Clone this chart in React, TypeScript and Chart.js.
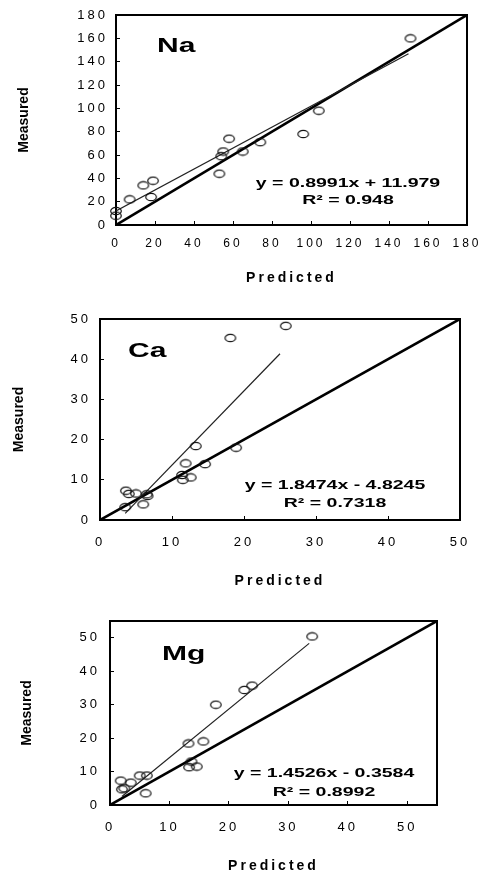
import React, { useEffect, useRef } from "react";
import { Chart, registerables } from "chart.js";

Chart.register(...registerables);

// ---------------- Data ----------------
// Na
const naPredicted = [0, 0, 7, 14, 19, 18, 53, 54, 55, 58, 65, 74, 96, 104, 151];
const naMeasured = [12, 8, 22, 34, 38, 24, 44, 59, 63, 74, 63, 71, 78, 98, 160];
const naTicks = [0, 20, 40, 60, 80, 100, 120, 140, 160, 180];
const naAxisMax = 180;
const naSlope = 0.8991;
const naIntercept = 11.979;
const naFitRange = [0, 150];
const naTexts = ["Na", "y = 0.8991x + 11.979", "R² = 0.948"];

// Ca
const caPredicted = [3.6, 4, 5, 3.5, 6, 6.5, 6.6, 11.4, 11.5, 12.6, 11.9, 13.3, 14.6, 18.9, 18.1, 25.8];
const caMeasured = [7.3, 6.5, 6.6, 3.2, 3.9, 6.4, 6.0, 11.2, 10, 10.6, 14.1, 18.4, 13.9, 18, 45.3, 48.3];
const caTicks = [0, 10, 20, 30, 40, 50];
const caAxisMax = 50;
const caSlope = 1.8474;
const caIntercept = -4.8245;
const caFitRange = [3.5, 25];
const caTexts = ["Ca", "y = 1.8474x - 4.8245", "R² = 0.7318"];

// Mg
const mgPredicted = [1.8, 2, 2.4, 3.5, 5, 6.2, 6, 13.2, 15.7, 13.7, 13.3, 14.6, 17.8, 22.6, 23.9, 34];
const mgMeasured = [7.3, 4.7, 5.0, 6.7, 8.8, 8.8, 3.5, 18.4, 19, 13, 11.3, 11.5, 30, 34.4, 35.7, 50.4];
const mgTicks = [0, 10, 20, 30, 40, 50];
const mgAxisMax = 55;
const mgSlope = 1.4526;
const mgIntercept = -0.3584;
const mgFitRange = [2, 33.5];
const mgTexts = ["Mg", "y = 1.4526x - 0.3584", "R² = 0.8992"];

const xTitle = "Predicted";
const yTitle = "Measured";

// ---------------- Layout / style ----------------
const W = 481;
const FONT = "'Liberation Sans', Arial, sans-serif";

type Layout = {
  top: number; height: number;
  L: number; R: number; T: number; B: number;
  yTitlePad: number; yTickPad: number; yTickSize: number;
  xTickPad: number; xTickSize: number; xTitlePad: number;
  label: [number, number];
  eq: [number, number]; r2: [number, number];
};

const naLayout: Layout = {
  top: 0, height: 290, L: 116, R: 467, T: 15, B: 225,
  yTitlePad: 15.6, yTickPad: 12, yTickSize: 13,
  xTickPad: 15, xTickSize: 12, xTitlePad: 3.6,
  label: [157, 46], eq: [348, 183], r2: [348, 200],
};
const caLayout: Layout = {
  top: 290, height: 300, L: 100, R: 460, T: 29, B: 230,
  yTitlePad: 11.1, yTickPad: 13, yTickSize: 13,
  xTickPad: 18.2, xTickSize: 13, xTitlePad: 0.6,
  label: [128, 61], eq: [335, 195], r2: [335, 213],
};
const mgLayout: Layout = {
  top: 590, height: 286, L: 110, R: 437, T: 31, B: 215,
  yTitlePad: 19.1, yTickPad: 14, yTickSize: 13,
  xTickPad: 18.2, xTickSize: 13, xTitlePad: 1.6,
  label: [162, 64], eq: [324, 183], r2: [324, 202],
};

type Spec = {
  predicted: number[]; measured: number[]; ticks: number[]; max: number;
  slope: number; intercept: number; fitRange: number[]; texts: string[];
};

function makeMarker(): HTMLCanvasElement {
  const c = document.createElement("canvas");
  c.width = 14;
  c.height = 10;
  const g = c.getContext("2d")!;
  g.strokeStyle = "#111";
  g.lineWidth = 1.2;
  g.beginPath();
  g.ellipse(7, 5, 5.3, 3.7, 0, 0, Math.PI * 2);
  g.stroke();
  return c;
}

function Panel({ spec, layout }: { spec: Spec; layout: Layout }) {
  const ref = useRef<HTMLCanvasElement>(null);
  useEffect(() => {
    const canvas = ref.current!;
    const H = layout.height;
    const marker = makeMarker();
    const points = spec.predicted.map((x, i) => ({ x, y: spec.measured[i] }));
    const fit = spec.fitRange.map((x) => ({ x, y: spec.slope * x + spec.intercept }));
    const identity = [{ x: 0, y: 0 }, { x: spec.max, y: spec.max }];

    const plugin = {
      id: "panelDecor",
      beforeDraw(chart: any) {
        chart.ctx.letterSpacing = "0px";
      },
      beforeDatasetsDraw(chart: any) {
        chart.ctx.letterSpacing = "3px";
      },
      afterDraw(chart: any) {
        const ctx = chart.ctx;
        const xs = chart.scales.x;
        const ys = chart.scales.y;
        const left = xs.getPixelForValue(0);
        const right = xs.getPixelForValue(spec.max);
        const top = ys.getPixelForValue(spec.max);
        const bottom = ys.getPixelForValue(0);
        ctx.save();
        ctx.letterSpacing = "0px";
        ctx.strokeStyle = "#000";
        ctx.lineWidth = 2;
        ctx.beginPath();
        ctx.moveTo(left - 1, top);
        ctx.lineTo(right, top);
        ctx.lineTo(right, bottom + 1);
        ctx.stroke();
        const draw = (text: string, x: number, y: number, font: string, align: string) => {
          ctx.save();
          ctx.translate(x, y);
          ctx.scale(1.5, 1);
          ctx.font = font;
          ctx.fillStyle = "#000";
          ctx.textAlign = align;
          ctx.textBaseline = "middle";
          ctx.fillText(text, 0, 0);
          ctx.restore();
        };
        draw(spec.texts[0], layout.label[0], layout.label[1], `bold 20px ${FONT}`, "left");
        draw(spec.texts[1], layout.eq[0], layout.eq[1], `bold 13px ${FONT}`, "center");
        draw(spec.texts[2], layout.r2[0], layout.r2[1], `bold 13px ${FONT}`, "center");
        ctx.restore();
      },
    };

    const chart = new Chart(canvas, {
      type: "scatter",
      data: {
        datasets: [
          {
            data: points,
            showLine: false,
            pointStyle: marker as any,
            pointRadius: 5,
            borderColor: "#111",
            backgroundColor: "rgba(0,0,0,0)",
            clip: false as any,
          },
          {
            data: fit,
            showLine: true,
            pointRadius: 0,
            borderColor: "#222",
            borderWidth: 1.2,
            fill: false,
          },
          {
            data: identity,
            showLine: true,
            pointRadius: 0,
            borderColor: "#000",
            borderWidth: 2.6,
            fill: false,
          },
        ],
      },
      options: {
        responsive: false,
        animation: false,
        events: [],
        layout: { padding: { left: 0, top: layout.T, right: W - layout.R, bottom: 0 } },
        plugins: { legend: { display: false }, tooltip: { enabled: false } },
        scales: {
          x: {
            type: "linear",
            position: "bottom",
            min: 0,
            max: spec.max,
            afterBuildTicks: (s: any) => {
              s.ticks = spec.ticks.map((v) => ({ value: v }));
            },
            afterFit: (s: any) => {
              s.height = H - layout.B;
              s.paddingLeft = 0;
              s.paddingRight = 0;
              s.paddingTop = 0;
              s.paddingBottom = 0;
            },
            grid: {
              display: true,
              drawOnChartArea: false,
              drawTicks: true,
              tickLength: -4,
              color: "#000",
              lineWidth: 1,
              z: 1,
            },
            border: { display: true, color: "#000", width: 2, z: 1 },
            ticks: {
              z: 1,
              padding: layout.xTickPad,
              maxRotation: 0,
              minRotation: 0,
              autoSkip: false,
              color: "#000",
              font: { family: FONT, size: layout.xTickSize, lineHeight: 1.2 },
              callback: (v: any) => String(v),
            },
            title: {
              display: true,
              text: xTitle,
              color: "#000",
              font: { family: FONT, size: 14, weight: "bold", lineHeight: 1.2 },
              padding: { top: 0, bottom: layout.xTitlePad },
            },
          },
          y: {
            type: "linear",
            position: "left",
            min: 0,
            max: spec.max,
            afterBuildTicks: (s: any) => {
              s.ticks = spec.ticks.map((v) => ({ value: v }));
            },
            afterFit: (s: any) => {
              s.width = layout.L;
              s.paddingLeft = 0;
              s.paddingRight = 0;
              s.paddingTop = 0;
              s.paddingBottom = 0;
            },
            grid: {
              display: true,
              drawOnChartArea: false,
              drawTicks: true,
              tickLength: -4,
              color: "#000",
              lineWidth: 1,
            },
            border: { display: true, color: "#000", width: 2 },
            ticks: {
              z: 1,
              padding: layout.yTickPad,
              color: "#000",
              font: { family: FONT, size: layout.yTickSize, lineHeight: 1.2 },
              callback: (v: any) => String(v),
            },
            title: {
              display: true,
              text: yTitle,
              color: "#000",
              font: { family: FONT, size: 14, weight: "bold", lineHeight: 1.2 },
              padding: { top: layout.yTitlePad, bottom: 0 },
            },
          },
        },
      } as any,
      plugins: [plugin as any],
    });
    return () => chart.destroy();
  }, []);
  return (
    <canvas
      ref={ref}
      width={W}
      height={layout.height}
      style={{ position: "absolute", left: 0, top: layout.top, width: W, height: layout.height, display: "block" }}
    />
  );
}

const naSpec: Spec = {
  predicted: naPredicted, measured: naMeasured, ticks: naTicks, max: naAxisMax,
  slope: naSlope, intercept: naIntercept, fitRange: naFitRange, texts: naTexts,
};
const caSpec: Spec = {
  predicted: caPredicted, measured: caMeasured, ticks: caTicks, max: caAxisMax,
  slope: caSlope, intercept: caIntercept, fitRange: caFitRange, texts: caTexts,
};
const mgSpec: Spec = {
  predicted: mgPredicted, measured: mgMeasured, ticks: mgTicks, max: mgAxisMax,
  slope: mgSlope, intercept: mgIntercept, fitRange: mgFitRange, texts: mgTexts,
};

export default function App() {
  return (
    <div style={{ position: "absolute", left: 0, top: 0, width: W, height: 876, background: "#fff", overflow: "hidden" }}>
      <Panel spec={naSpec} layout={naLayout} />
      <Panel spec={caSpec} layout={caLayout} />
      <Panel spec={mgSpec} layout={mgLayout} />
    </div>
  );
}
